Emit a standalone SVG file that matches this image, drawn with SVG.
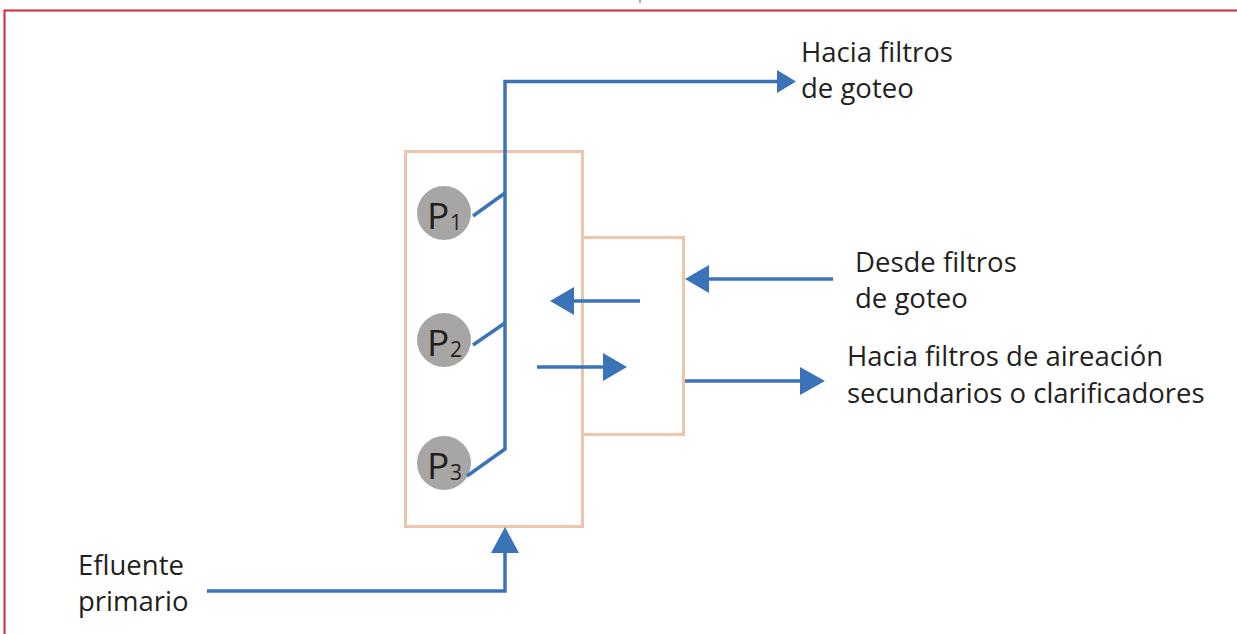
<svg xmlns="http://www.w3.org/2000/svg" width="1237" height="634" viewBox="0 0 1237 634">
<style>
.lbl{font-family:"Open Sans","Liberation Sans",sans-serif;font-size:27.5px;fill:#231f20}
.tank{fill:none;stroke:#ecc5ab;stroke-width:3}
.pipe{fill:none;stroke:#3b73b9;stroke-width:3.5}
.head{fill:#3b73b9}
.pump{fill:#a7a6a4}
.pl{font-family:"Open Sans","Liberation Sans",sans-serif;fill:#231f20}
.pb{font-size:37px}
.ps{font-size:21px}
</style>
<rect width="1237" height="634" fill="#fff"/>
<path d="M4.5,634 V10.5 H1237" fill="none" stroke="#d0283c" stroke-width="2"/>
<line x1="640" y1="0" x2="640" y2="3" stroke="#555" stroke-width="1"/>
<g id="tank-main"><rect class="tank" x="405.5" y="151.5" width="177" height="375"/></g>
<g id="tank-side"><rect class="tank" x="582.5" y="237.5" width="101" height="197"/></g>
<g id="p1"><circle class="pump" cx="444" cy="213" r="27"/><text class="pl pb" x="427" y="229">P</text><text class="pl ps" x="450" y="230">1</text></g>
<g id="p2"><circle class="pump" cx="444" cy="340" r="27"/><text class="pl pb" x="427" y="356">P</text><text class="pl ps" x="450" y="357">2</text></g>
<g id="p3"><circle class="pump" cx="444" cy="463" r="27"/><text class="pl pb" x="427" y="479">P</text><text class="pl ps" x="450" y="480">3</text></g>
<g id="connectors">
<polyline class="pipe" points="467,476 505,449 505,81.5 780,81.5"/>
<polygon class="head" points="777,70 796,81.5 777,93"/>
<line class="pipe" x1="473" y1="216" x2="505" y2="193"/>
<line class="pipe" x1="473" y1="345" x2="505" y2="323"/>
<line class="pipe" x1="640" y1="301" x2="572" y2="301"/>
<polygon class="head" points="574,287 550,301 574,315"/>
<line class="pipe" x1="537" y1="367" x2="606" y2="367"/>
<polygon class="head" points="603,353 627,367 603,381"/>
<line class="pipe" x1="833" y1="279" x2="707" y2="279"/>
<polygon class="head" points="709,265 685,279 709,293"/>
<line class="pipe" x1="685" y1="381" x2="803" y2="381"/>
<polygon class="head" points="800,367 825,381 800,395"/>
<polyline class="pipe" points="207,591 505,591 505,550"/>
<polygon class="head" points="491,553 505,527 519,553"/>
</g>
<g id="labels">
<text class="lbl" x="801" y="62">Hacia filtros</text>
<text class="lbl" x="801" y="98">de goteo</text>
<text class="lbl" x="855" y="272">Desde filtros</text>
<text class="lbl" x="855" y="308">de goteo</text>
<text class="lbl" x="847" y="366">Hacia filtros de aireación</text>
<text class="lbl" x="847" y="403">secundarios o clarificadores</text>
<text class="lbl" x="78" y="575">Efluente</text>
<text class="lbl" x="78" y="611">primario</text>
</g>
</svg>
